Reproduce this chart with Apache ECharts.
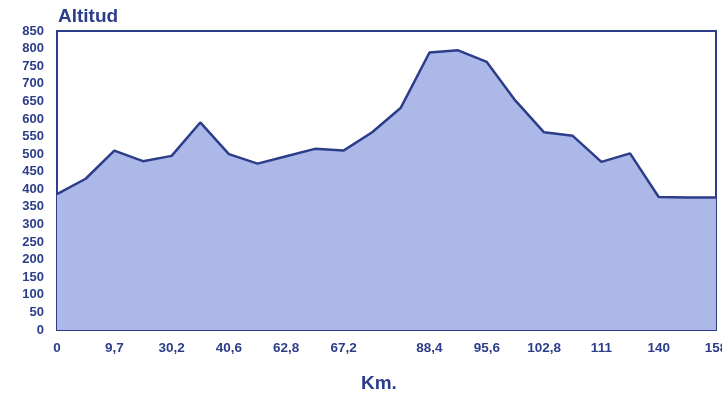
<!DOCTYPE html>
<html>
<head>
<meta charset="utf-8">
<title>Altitud</title>
<script src="https://cdn.jsdelivr.net/npm/echarts@6/dist/echarts.min.js"></script>
<style>
  html, body { margin: 0; padding: 0; background: #ffffff; overflow: hidden; }
  #chart { width: 722px; height: 401px; }
</style>
</head>
<body>
<div id="chart"></div>
<script>
// Km labels only under some of the profile points
const kmLabels = [
  "0", "", "9,7", "", "30,2", "", "40,6", "", "62,8", "", "67,2", "", "",
  "88,4", "", "95,6", "", "102,8", "", "111", "", "140", "", "158",
];
const altitudes = [
  386, 430, 510, 480, 495, 590, 500, 473, 494, 515, 510, 562, 632,
  789, 795, 762, 652, 562, 552, 478, 502, 378, 377, 377,
];

const ink = "#2c3d8a";
const font = "Liberation Sans";

const chart = echarts.init(document.getElementById("chart"));

chart.setOption({
  animation: false,
  title: [
    {
      text: "Altitud",
      left: 53,
      top: 2,
      textStyle: { color: ink, fontSize: 19, fontWeight: "bold", fontFamily: font },
    },
    {
      text: "Km.",
      left: 356,
      top: 369,
      textStyle: { color: ink, fontSize: 19, fontWeight: "bold", fontFamily: font },
    },
  ],
  grid: {
    left: 57,
    right: 6,
    top: 31,
    bottom: 71,
    outerBoundsMode: "none",
    containLabel: false,
    show: true,
    borderColor: ink,
    borderWidth: 2,
    backgroundColor: "transparent",
  },
  xAxis: {
    type: "category",
    data: kmLabels,
    boundaryGap: false,
    axisLine: { lineStyle: { color: ink, width: 2 } },
    axisTick: { show: false },
    axisLabel: {
      interval: 0,
      margin: 11,
      color: ink,
      fontSize: 13.5,
      fontWeight: "bold",
      fontFamily: font,
    },
    splitLine: { show: false },
  },
  yAxis: {
    type: "value",
    min: 0,
    max: 850,
    interval: 50,
    axisLine: { show: true, lineStyle: { color: ink, width: 2 } },
    axisTick: { show: false },
    axisLabel: {
      margin: 13,
      color: ink,
      fontSize: 13,
      fontWeight: "bold",
      fontFamily: font,
    },
    splitLine: { show: false },
  },
  series: [
    {
      type: "line",
      data: altitudes,
      showSymbol: false,
      lineStyle: { color: ink, width: 2.5 },
      areaStyle: { color: "#acb8e8", opacity: 1 },
    },
  ],
});
</script>
</body>
</html>
